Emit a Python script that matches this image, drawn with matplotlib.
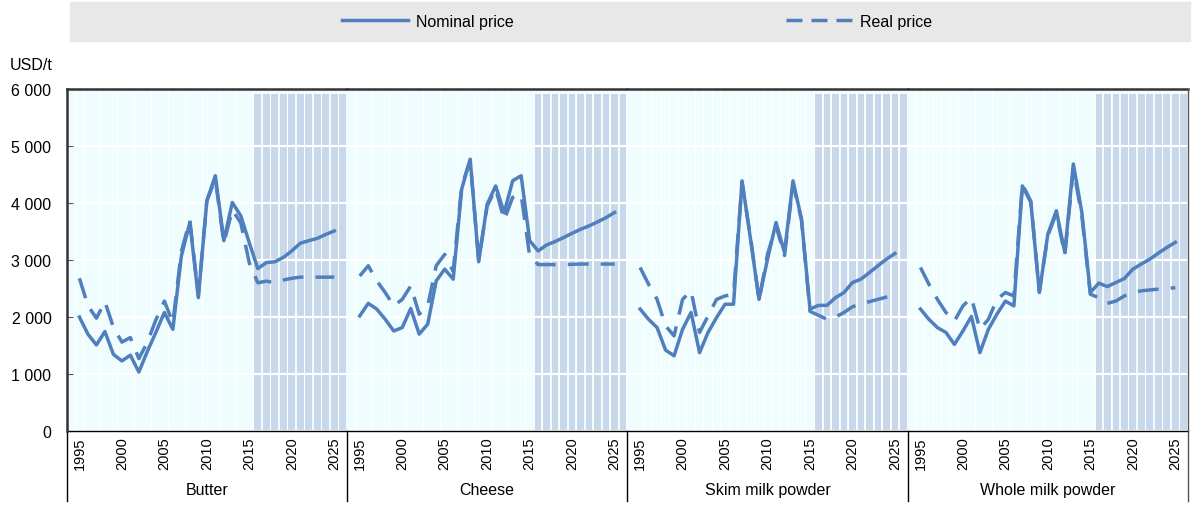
import matplotlib
matplotlib.use('Agg')
import matplotlib.pyplot as plt
from matplotlib.patches import Rectangle
from matplotlib.lines import Line2D
from matplotlib.ticker import FuncFormatter

plt.rcParams['font.family'] = ['Liberation Sans', 'DejaVu Sans']

years = list(range(1995, 2026))
products = ["Butter", "Cheese", "Skim milk powder", "Whole milk powder"]

butter_nominal = [2000, 1700, 1510, 1745, 1345, 1230, 1330, 1035, 1400, 1730,
                  2080, 1785, 3070, 3660, 2340, 4040, 4480, 3340, 4010, 3775,
                  3300, 2850, 2955, 2970, 3045, 3160, 3295, 3340, 3380, 3450, 3510]
butter_real = [2680, 2200, 1980, 2270, 1820, 1560, 1640, 1270, 1560, 1950,
               2280, 1900, 3150, 3700, 2380, 4040, 4420, 3300, 3880, 3650,
               2950, 2600, 2630, 2600, 2650, 2680, 2700, 2700, 2700, 2700, 2700]
cheese_nominal = [2020, 2240, 2140, 1960, 1755, 1815, 2150, 1700, 1875, 2635,
                  2840, 2665, 4245, 4770, 2970, 3980, 4300, 3830, 4390, 4480,
                  3340, 3160, 3265, 3325, 3395, 3470, 3540, 3600, 3670, 3745, 3835]
cheese_real = [2720, 2900, 2635, 2430, 2195, 2310, 2545, 2050, 2195, 2900,
               3100, 2800, 4300, 4750, 3000, 3950, 4250, 3700, 4100, 4150,
               3070, 2920, 2920, 2920, 2920, 2925, 2930, 2930, 2930, 2930, 2930]
smp_nominal = [2140, 1960, 1815, 1420, 1320, 1785, 2080, 1375, 1730, 1990,
               2225, 2225, 4390, 3365, 2310, 3015, 3660, 3130, 4390, 3720,
               2140, 2205, 2205, 2340, 2430, 2605, 2665, 2780, 2900, 3015, 3115]
smp_real = [2870, 2575, 2310, 1845, 1670, 2310, 2460, 1730, 2020, 2310,
            2370, 2400, 4360, 3400, 2300, 3100, 3600, 3080, 4330, 3700,
            2100, 2030, 1960, 2000, 2080, 2180, 2230, 2270, 2310, 2350, 2380]
wmp_nominal = [2140, 1960, 1815, 1730, 1520, 1755, 2010, 1375, 1785, 2050,
               2280, 2195, 4300, 4010, 2430, 3455, 3865, 3130, 4685, 3835,
               2430, 2595, 2535, 2605, 2675, 2840, 2930, 3015, 3120, 3220, 3310]
wmp_real = [2870, 2575, 2310, 2080, 1930, 2195, 2340, 1785, 1960, 2310,
            2430, 2370, 4330, 4030, 2440, 3430, 3820, 3090, 4600, 3780,
            2400, 2340, 2240, 2280, 2370, 2430, 2460, 2475, 2490, 2500, 2515]

nominal = [butter_nominal, cheese_nominal, smp_nominal, wmp_nominal]
real = [butter_real, cheese_real, smp_real, wmp_real]

# background stripes (one per year slot) and projection period stripes
slots = list(range(1994, 2027))
proj_slots = list(range(2016, 2027))

blue = '#4f7fbd'
fs = 11.5

fig, axes = plt.subplots(1, 4, sharey=True, figsize=(11.97, 5.06), dpi=100)
fig.subplots_adjust(left=0.0557, right=0.9925, bottom=0.1462, top=0.822, wspace=0)

for i, ax in enumerate(axes):
    ax.bar(slots, [6000] * len(slots), width=0.92, color='#f0fdff', zorder=0.2)
    ax.bar(proj_slots, [5920] * len(proj_slots), width=0.78, color='#c8d7ea', zorder=0.3)
    ax.set_axisbelow(True)
    ax.yaxis.grid(True, color='white', lw=1.6)
    ax.plot(years, nominal[i], color=blue, lw=2.5, zorder=3)
    ax.plot(years, real[i], color=blue, lw=2.5, zorder=3, dashes=(6, 3.5))
    ax.set_xlim(1993.5, 2026.5)
    ax.set_ylim(0, 6000)
    ax.set_xticks(list(range(1995, 2026, 5)))
    ax.set_xticklabels([str(y) for y in range(1995, 2026, 5)], rotation=90, fontsize=10.5)
    ax.tick_params(axis='x', length=0, pad=4)
    for s in ['left', 'right']:
        ax.spines[s].set_visible(False)
    ax.spines['top'].set_color('#333333')
    ax.spines['top'].set_linewidth(1.8)
    ax.spines['bottom'].set_color('black')
    ax.spines['bottom'].set_linewidth(1.0)
    # separator lines under the axis
    ax.plot([0, 0], [0, -0.205], transform=ax.transAxes, color='black', lw=1.0, clip_on=False, zorder=5)
    if i == len(axes) - 1:
        ax.plot([1, 1], [1, -0.205], transform=ax.transAxes, color='#555555', lw=1.0, clip_on=False, zorder=5)
    ax.text(0.5, -0.17, products[i], transform=ax.transAxes, ha='center', va='center', fontsize=fs)
    if i > 0:
        ax.tick_params(axis='y', length=0)

axes[0].plot([0, 0], [0, 1], transform=axes[0].transAxes, color='#333333', lw=1.8, clip_on=False, zorder=5)
axes[0].set_yticks(list(range(0, 6001, 1000)))
axes[0].yaxis.set_major_formatter(FuncFormatter(lambda v, p: f"{int(v):,}".replace(",", " ")))
axes[0].tick_params(axis='y', direction='in', length=4, pad=11, labelsize=fs, color='#555555')

fig.text(10 / 1197, 1 - 65 / 506, "USD/t", fontsize=fs, ha='left', va='center')

# legend band
fig.patches.append(Rectangle((70 / 1197, 1 - 42 / 506), 1120 / 1197, 39 / 506,
                             transform=fig.transFigure, color='#e8e8e8', zorder=0))
handles = [Line2D([], [], color=blue, lw=2.5),
           Line2D([], [], color=blue, lw=2.5, dashes=(4.6, 2.6))]
fig.legend(handles, ["Nominal price", "Real price"], loc='center',
           bbox_to_anchor=(637 / 1197, 1 - 22 / 506), ncol=2, frameon=False,
           handlelength=4.15, handletextpad=0.5, columnspacing=17, fontsize=fs)

plt.savefig("out.png", dpi=100)
